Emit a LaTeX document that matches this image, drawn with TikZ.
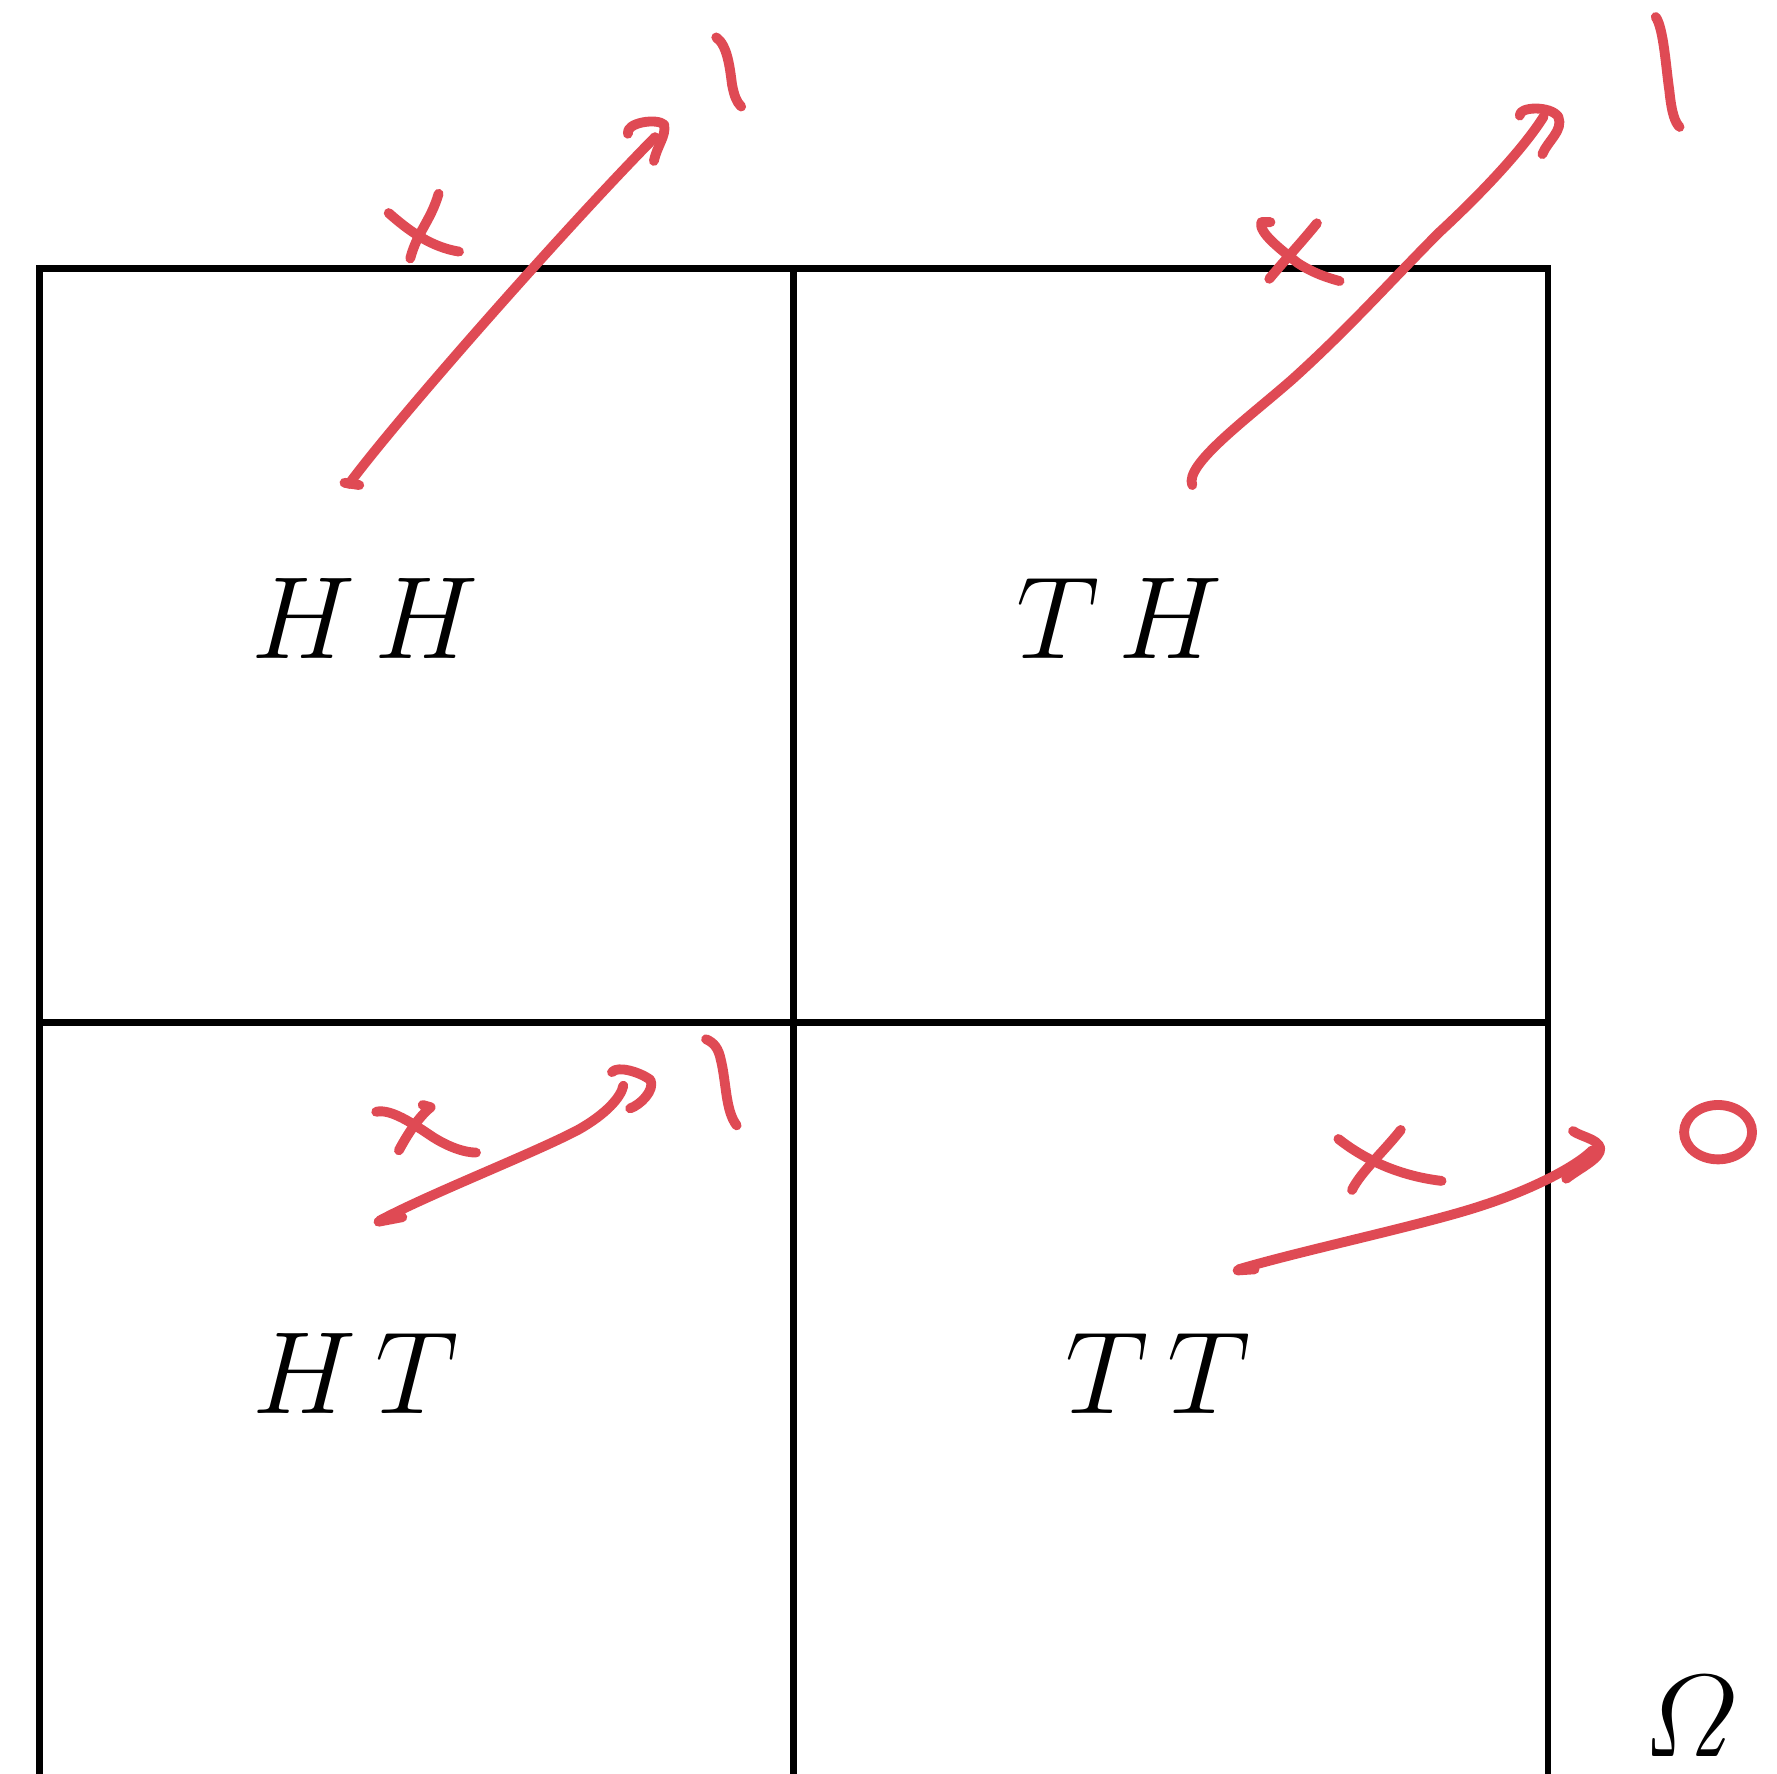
\documentclass[tikz,border=0pt]{standalone}
\usepackage{amsmath}
\usepackage{graphicx}

\definecolor{inkred}{RGB}{223,74,84}
\tikzstyle{cell} = [draw, line width = 1.9pt, black]
\tikzstyle{pen} = [draw, inkred, line width = 2.8pt, line cap = round, line join = round]
\tikzstyle{outcome} = [inner sep = 0pt, font = \fontsize{24.88}{30}\selectfont]

\begin{document}
\begin{tikzpicture}[x = 0.011333cm, y = -0.011333cm]
		\useasboundingbox (0, 0) rectangle (1568, 1565);

		% sample space
		\draw [cell] (35, 1565) -- (35, 237) -- (1366, 237) -- (1366, 1565);
		\draw [cell] (35, 902) -- (1366, 902);
		\draw [cell] (700, 237) -- (700, 1565);

		\node [outcome] at (322, 546) (hh) {\scalebox{1.34}{$H\,H$}};
		\node [outcome] at (988, 546) (th) {\scalebox{1.34}{$T\,H$}};
		\node [outcome] at (314, 1212) (ht) {\scalebox{1.34}{$H\,T$}};
		\node [outcome] at (1022, 1212) (tt) {\scalebox{1.34}{$T\,T$}};
		\node [outcome] at (1492, 1515) (omega) {\scalebox{1.34}{$\varOmega$}};

		% HH -> 1
		\coordinate (hh-from) at (308, 427);
		\coordinate (hh-to) at (578, 121);
		\draw [pen] (hh-from) .. controls (350, 370) and (500, 200) .. (hh-to);
		\draw [pen] (304, 426) -- (317, 428);
		\draw [pen] (554, 118) .. controls (552, 108) and (580, 104) .. (586, 110) .. controls (588, 120) and (580, 128) .. (577, 142);
		\draw [pen] (343, 188) .. controls (360, 203) and (380, 218) .. (405, 222);
		\draw [pen] (387, 171) .. controls (380, 195) and (368, 205) .. (362, 228);
		\draw [pen] (632, 33) .. controls (642, 40) and (644, 60) .. (646, 75) .. controls (648, 85) and (650, 90) .. (654, 94);

		% TH -> 1
		\coordinate (th-from) at (1052, 428);
		\coordinate (th-to) at (1362, 103);
		\draw [pen] (th-from) .. controls (1045, 410) and (1100, 370) .. (1140, 335) .. controls (1190, 290) and (1230, 245) .. (1270, 205) .. controls (1310, 168) and (1345, 130) .. (th-to);
		\draw [pen] (1341, 102) .. controls (1340, 94) and (1368, 93) .. (1375, 103) .. controls (1380, 115) and (1365, 125) .. (1361, 136);
		\draw [pen] (1121, 196) -- (1113, 196) .. controls (1110, 205) and (1130, 220) .. (1145, 232) .. controls (1160, 242) and (1175, 246) .. (1182, 248);
		\draw [pen] (1162, 197) .. controls (1150, 212) and (1135, 228) .. (1120, 246);
		\draw [pen] (1461, 15) .. controls (1468, 25) and (1470, 60) .. (1473, 80) .. controls (1475, 100) and (1478, 108) .. (1482, 112);

		% HT -> 1
		\coordinate (ht-from) at (335, 1077);
		\coordinate (ht-to) at (550, 958);
		\draw [pen] (ht-from) .. controls (380, 1053) and (470, 1018) .. (510, 997) .. controls (535, 983) and (548, 968) .. (ht-to);
		\draw [pen] (334, 1078) -- (355, 1074);
		\draw [pen] (540, 946) .. controls (545, 940) and (565, 946) .. (574, 953) .. controls (578, 962) and (565, 975) .. (556, 978);
		\draw [pen] (332, 981) .. controls (345, 978) and (365, 992) .. (380, 1002) .. controls (395, 1012) and (410, 1017) .. (420, 1017);
		\draw [pen] (373, 975) -- (380, 977) .. controls (370, 985) and (360, 1000) .. (352, 1015);
		\draw [pen] (623, 917) .. controls (630, 920) and (634, 925) .. (636, 935) .. controls (641, 955) and (640, 980) .. (650, 993);

		% TT -> 0
		\coordinate (tt-from) at (1093, 1120);
		\coordinate (tt-to) at (1405, 1015);
		\draw [pen] (tt-from) .. controls (1150, 1103) and (1260, 1080) .. (1310, 1063) .. controls (1350, 1050) and (1390, 1030) .. (tt-to);
		\draw [pen] (1092, 1121) -- (1107, 1120);
		\draw [pen] (1388, 998) .. controls (1395, 1003) and (1410, 1005) .. (1412, 1013) .. controls (1413, 1022) and (1395, 1030) .. (1382, 1040);
		\draw [pen] (1181, 1005) .. controls (1200, 1020) and (1230, 1037) .. (1272, 1042);
		\draw [pen] (1236, 997) .. controls (1222, 1015) and (1200, 1035) .. (1193, 1050);
		\draw [pen] (1516, 999) ellipse [x radius = 30, y radius = 24];
\end{tikzpicture}
\end{document}
